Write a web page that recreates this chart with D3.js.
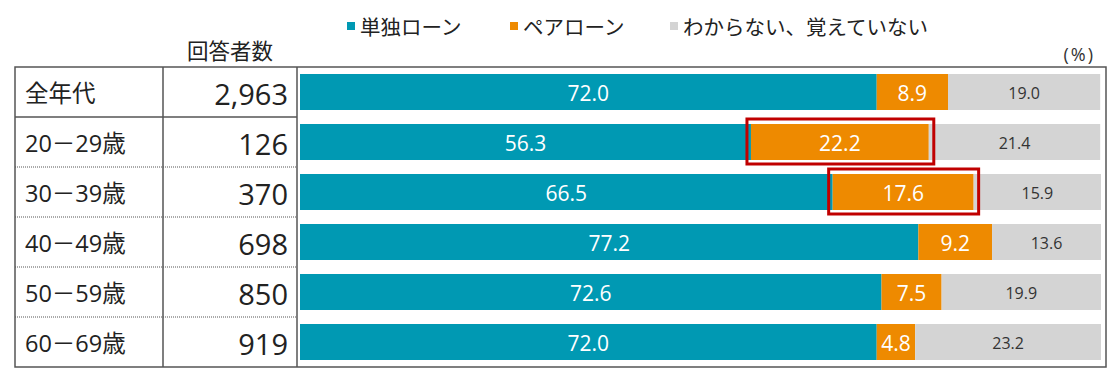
<!DOCTYPE html>
<html>
<head>
<meta charset="utf-8">
<script src="https://cdn.jsdelivr.net/npm/d3@7"></script>
<style>
  body { margin: 0; background: #fff; }
  text { font-family: "Open Sans", "Noto Sans CJK JP", sans-serif; }
</style>
</head>
<body>
<div id="plot"></div>
<script>
// data
var groups = ['全年代', '20－29歳', '30－39歳', '40－49歳', '50－59歳', '60－69歳'];
var respondents = ['2,963', '126', '370', '698', '850', '919'];
var single = [72.0, 56.3, 66.5, 77.2, 72.6, 72.0];
var pair = [8.9, 22.2, 17.6, 9.2, 7.5, 4.8];
var unknown = [19.0, 21.4, 15.9, 13.6, 19.9, 23.2];
var seriesNames = ['単独ローン', 'ペアローン', 'わからない、覚えていない'];
var highlighted = ['20－29歳', '30－39歳'];   // red boxes round the pair loan part

var colors = ['#0099b3', '#ee8a00', '#d4d4d4'];
var width = 1119, height = 374;

var svg = d3.select('#plot').append('svg')
    .attr('width', width)
    .attr('height', height);

// scales
var x = d3.scaleLinear().domain([0, 100]).range([300, 1101]);
var row = d3.scaleBand().domain(groups).range([67, 367]);
var barPad = 7;

// stack the three series per group
var rows = groups.map(function(g, i) {
    return {group: g, n: respondents[i], values: [single[i], pair[i], unknown[i]]};
});
var stack = d3.stack().keys([0, 1, 2]).value(function(d, k) { return d.values[k]; });
var layers = stack(rows);

// legend
var legendX = [347, 510, 670];
var legend = svg.selectAll('.legend')
    .data(seriesNames)
    .enter().append('g')
    .attr('class', 'legend')
    .attr('transform', function(d, i) { return 'translate(' + legendX[i] + ',22)'; });
legend.append('rect')
    .attr('width', 8).attr('height', 8)
    .style('fill', function(d, i) { return colors[i]; });
legend.append('text')
    .attr('x', 13).attr('y', 5)
    .attr('dominant-baseline', 'central')
    .style('font-size', '20.5px')
    .style('fill', '#222')
    .text(function(d) { return d; });

// header texts
svg.append('text')
    .attr('x', 230).attr('y', 50)
    .attr('text-anchor', 'middle')
    .attr('dominant-baseline', 'central')
    .style('font-size', '21.5px')
    .style('fill', '#222')
    .text('回答者数');
svg.append('text')
    .attr('x', 1095).attr('y', 54)
    .attr('text-anchor', 'end')
    .attr('dominant-baseline', 'central')
    .style('font-size', '18px')
    .style('letter-spacing', '2px')
    .style('fill', '#333')
    .text('(%)');

// bars
var layerG = svg.selectAll('.layer')
    .data(layers)
    .enter().append('g')
    .attr('class', 'layer')
    .style('fill', function(d, i) { return colors[i]; });

layerG.selectAll('rect')
    .data(function(d) { return d; })
    .enter().append('rect')
    .attr('x', function(d) { return x(d[0]); })
    .attr('y', function(d) { return row(d.data.group) + barPad; })
    .attr('width', function(d) { return x(d[1]) - x(d[0]); })
    .attr('height', row.bandwidth() - barPad * 2);

// value labels
layerG.selectAll('text')
    .data(function(d, i) { return d.map(function(v) { v.layer = i; return v; }); })
    .enter().append('text')
    .attr('x', function(d) { return (x(d[0]) + x(d[1])) / 2; })
    .attr('y', function(d) { return row(d.data.group) + row.bandwidth() / 2 + 1; })
    .attr('text-anchor', 'middle')
    .attr('dominant-baseline', 'central')
    .style('font-size', function(d) { return d.layer == 2 ? '16px' : '21px'; })
    .style('fill', function(d) { return d.layer == 2 ? '#333' : '#fff'; })
    .text(function(d) { return d.data.values[d.layer].toFixed(1); });

// red highlight boxes
svg.selectAll('.hl')
    .data(layers[1].filter(function(d) { return highlighted.indexOf(d.data.group) >= 0; }))
    .enter().append('rect')
    .attr('class', 'hl')
    .attr('x', function(d) { return x(d[0]) - 4; })
    .attr('y', function(d) { return row(d.data.group) + barPad - 5; })
    .attr('width', function(d) { return x(d[1]) - x(d[0]) + 9; })
    .attr('height', row.bandwidth() - barPad * 2 + 9)
    .style('fill', 'none')
    .style('stroke', '#c00000')
    .style('stroke-width', 3);

// table part
var table = svg.append('g').attr('class', 'table');

table.selectAll('.label')
    .data(rows)
    .enter().append('text')
    .attr('class', 'label')
    .attr('x', 25)
    .attr('y', function(d) { return row(d.group) + row.bandwidth() / 2 + 1; })
    .attr('dominant-baseline', 'central')
    .style('font-size', '23.5px')
    .style('fill', '#222')
    .text(function(d) { return d.group; });

table.selectAll('.num')
    .data(rows)
    .enter().append('text')
    .attr('class', 'num')
    .attr('x', 288)
    .attr('y', function(d) { return row(d.group) + row.bandwidth() / 2 + 1; })
    .attr('text-anchor', 'end')
    .attr('dominant-baseline', 'central')
    .style('font-size', '29px')
    .style('fill', '#222')
    .text(function(d) { return d.n; });

// row separators: first one solid, the rest dotted
table.selectAll('.sep')
    .data(groups.slice(1))
    .enter().append('line')
    .attr('class', 'sep')
    .attr('x1', 15).attr('x2', 297)
    .attr('y1', function(d) { return row(d); })
    .attr('y2', function(d) { return row(d); })
    .style('stroke', '#555')
    .style('stroke-width', function(d, i) { return i == 0 ? 1.5 : 1; })
    .style('stroke-dasharray', function(d, i) { return i == 0 ? null : '1,1'; });

// column lines and outer border
table.selectAll('.col')
    .data([163, 297])
    .enter().append('line')
    .attr('class', 'col')
    .attr('x1', function(d) { return d; }).attr('x2', function(d) { return d; })
    .attr('y1', row.range()[0]).attr('y2', row.range()[1])
    .style('stroke', '#555')
    .style('stroke-width', 1.5);

table.append('rect')
    .attr('x', 15).attr('y', row.range()[0])
    .attr('width', 1106 - 15)
    .attr('height', row.range()[1] - row.range()[0])
    .style('fill', 'none')
    .style('stroke', '#555')
    .style('stroke-width', 1.5);
</script>
</body>
</html>
